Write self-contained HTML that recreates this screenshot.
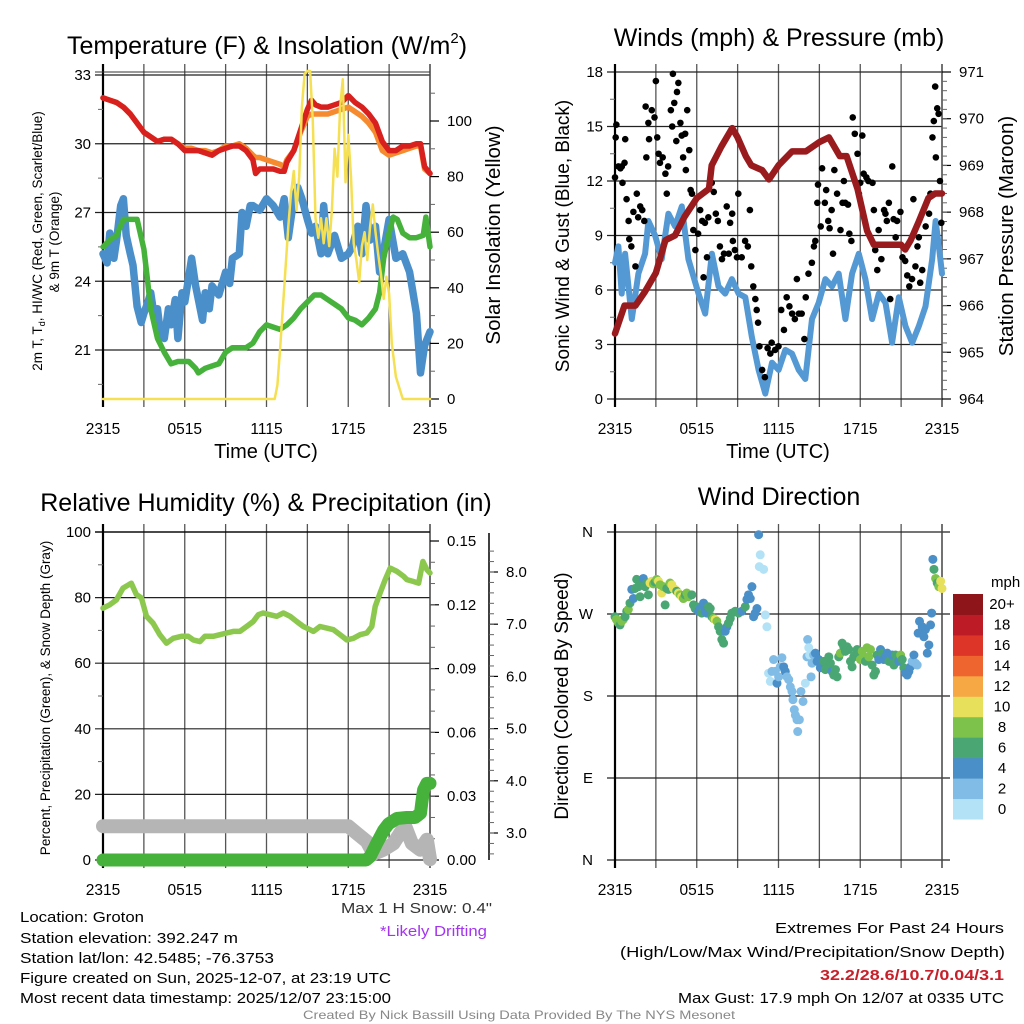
<!DOCTYPE html>
<html><head><meta charset="utf-8">
<style>
html,body{margin:0;padding:0;background:#fff;}
svg{display:block;font-family:"Liberation Sans",sans-serif;}
</style></head>
<body>
<svg id="fig" width="1024" height="1024" viewBox="0 0 1024 1024" xmlns="http://www.w3.org/2000/svg">
<rect width="1024" height="1024" fill="#fff"/>
<g id="p1"></g>
<g id="p2"></g>
<g id="p3"></g>
<g id="p4"></g>

<text x="267" y="54" font-size="25" text-anchor="middle">Temperature (F) &amp; Insolation (W/m<tspan font-size="15" dy="-11">2</tspan><tspan dy="11">)</tspan></text>
<text x="779" y="46" font-size="25" text-anchor="middle">Winds (mph) &amp; Pressure (mb)</text>
<text x="266" y="511" font-size="25" text-anchor="middle">Relative Humidity (%) &amp; Precipitation (in)</text>
<text x="779" y="505" font-size="25" text-anchor="middle">Wind Direction</text>

<text transform="translate(42,241) rotate(-90)" font-size="13.5" text-anchor="middle">2m T, T<tspan font-size="9" dy="3">d</tspan><tspan dy="-3">, HI/WC (Red, Green, Scarlet/Blue)</tspan></text>
<text transform="translate(59,242) rotate(-90)" font-size="13.5" text-anchor="middle">&amp; 9m T (Orange)</text>
<text transform="translate(500,235) rotate(-90)" font-size="20.5" text-anchor="middle">Solar Insolation (Yellow)</text>
<text x="266" y="458" font-size="20" text-anchor="middle">Time (UTC)</text>
<text x="778" y="458" font-size="20" text-anchor="middle">Time (UTC)</text>
<text transform="translate(569,236) rotate(-90)" font-size="19" text-anchor="middle">Sonic Wind &amp; Gust (Blue, Black)</text>
<text transform="translate(1013,236) rotate(-90)" font-size="20.5" text-anchor="middle">Station Pressure (Maroon)</text>
<text transform="translate(50,698) rotate(-90)" font-size="13.5" text-anchor="middle">Percent, Precipitation (Green), &amp; Snow Depth (Gray)</text>
<text transform="translate(568,696) rotate(-90)" font-size="19" text-anchor="middle">Direction (Colored By Speed)</text>

<g font-size="15">
<text x="341" y="913" textLength="151" lengthAdjust="spacingAndGlyphs" fill="#333">Max 1 H Snow: 0.4"</text>
<text x="380" y="936" textLength="107" lengthAdjust="spacingAndGlyphs" fill="#a335f0">*Likely Drifting</text>
<text x="20" y="922" textLength="124" lengthAdjust="spacingAndGlyphs">Location: Groton</text>
<text x="20" y="943" textLength="218" lengthAdjust="spacingAndGlyphs">Station elevation: 392.247 m</text>
<text x="20" y="963" textLength="254" lengthAdjust="spacingAndGlyphs">Station lat/lon: 42.5485; -76.3753</text>
<text x="20" y="983" textLength="371" lengthAdjust="spacingAndGlyphs">Figure created on Sun, 2025-12-07, at 23:19 UTC</text>
<text x="20" y="1003" textLength="371" lengthAdjust="spacingAndGlyphs">Most recent data timestamp: 2025/12/07 23:15:00</text>
<text x="775" y="933" textLength="229" lengthAdjust="spacingAndGlyphs">Extremes For Past 24 Hours</text>
<text x="620" y="957" textLength="385" lengthAdjust="spacingAndGlyphs">(High/Low/Max Wind/Precipitation/Snow Depth)</text>
<text x="820" y="980" textLength="184" lengthAdjust="spacingAndGlyphs" fill="#c8202a" font-weight="bold">32.2/28.6/10.7/0.04/3.1</text>
<text x="678" y="1003" textLength="326" lengthAdjust="spacingAndGlyphs">Max Gust: 17.9 mph On 12/07 at 0335 UTC</text>
<text x="303" y="1019" font-size="12" textLength="432" lengthAdjust="spacingAndGlyphs" fill="#888">Created By Nick Bassill Using Data Provided By The NYS Mesonet</text>
</g>
</svg>
<script>
// ---------- DATA ----------
const xTickLabels = ["2315","0515","1115","1715","2315"];
const tempTicks = [21,24,27,30,33];
const insolTicks = [0,20,40,60,80,100];
const windTicks = [0,3,6,9,12,15,18];
const presTicks = [964,965,966,967,968,969,970,971];
const rhTicks = [0,20,40,60,80,100];
const precipTicks = ["0.00","0.03","0.06","0.09","0.12","0.15"];
const snowTicks = ["3.0","4.0","5.0","6.0","7.0","8.0"];
const dirTickLabels = ["N","E","S","W","N"];
const speedBins = ["0","2","4","6","8","10","12","14","16","18","20+"];

const tempT = [0,0.5,1,1.5,2,2.5,3,3.5,4,4.5,5,5.5,6,6.5,7,7.5,8,8.5,9,9.5,10,10.5,11,11.2,11.5,12,12.5,13,13.3,13.5,14,14.5,15,15.3,15.6,16,16.5,17,17.5,18,18.5,19,19.5,20,20.5,21,21.5,22,22.5,23,23.3,23.6,24];
const tempRed = [32.0,31.9,31.8,31.6,31.3,30.9,30.5,30.3,30.1,30.2,30.2,30.0,29.7,29.7,29.7,29.6,29.5,29.7,29.8,29.9,29.9,29.7,29.3,28.7,28.9,28.9,28.9,28.8,28.8,29.2,29.7,30.6,31.5,31.9,31.7,31.6,31.6,31.7,31.8,32.1,31.8,31.6,31.3,30.9,30.1,29.7,29.7,29.9,29.9,30.0,30.0,29.0,28.7];
const tempOrange = [32.0,31.9,31.8,31.6,31.3,30.9,30.5,30.3,30.1,30.2,30.2,30.0,29.8,29.8,29.7,29.7,29.6,29.7,29.9,29.9,30.0,29.8,29.5,29.4,29.4,29.3,29.2,29.1,29.0,29.3,29.7,30.5,31.2,31.3,31.3,31.3,31.3,31.4,31.5,31.6,31.4,31.2,30.9,30.5,29.7,29.5,29.6,29.7,29.8,29.9,29.9,28.9,28.7];
const dewT = [0,0.5,1,1.5,2,2.5,3,3.2,3.5,4,4.5,5,5.5,6,6.3,6.8,7,7.5,8,8.5,9,9.5,10,10.5,11,11.5,12,12.5,13,13.5,14,14.5,15,15.5,16,16.5,17,17.5,18,18.5,19,19.5,20,20.3,20.6,21,21.3,21.6,22,22.5,23,23.5,23.7,24];
const dewVal = [25.5,25.8,26.0,26.7,26.7,26.7,25.4,24.4,22.8,21.5,20.9,20.4,20.5,20.5,20.5,20.2,20.0,20.2,20.3,20.4,20.9,21.1,21.1,21.1,21.3,21.8,22.1,22.0,21.9,22.1,22.4,22.8,23.1,23.4,23.4,23.2,23.0,22.8,22.4,22.3,22.1,22.4,22.8,23.5,25.0,26.1,26.8,26.7,26.1,25.9,25.9,26.0,26.8,25.5];
const wcT = [0,0.3,0.5,0.8,1,1.3,1.5,1.7,2,2.2,2.5,2.8,3,3.3,3.5,3.8,4,4.2,4.5,4.8,5,5.3,5.5,5.8,6,6.3,6.5,6.8,7,7.3,7.5,7.8,8,8.5,9,9.3,9.5,10,10.2,10.5,10.8,11,11.5,12,12.5,13,13.3,13.6,14,14.3,14.6,15,15.3,15.6,16,16.2,16.5,17,17.5,18,18.3,18.7,19,19.3,19.6,20,20.3,20.5,21,21.5,22,22.5,23,23.3,23.6,24];
const wcVal = [25.2,24.8,26.1,25.0,25.8,27.3,27.6,26.0,25.2,24.7,22.9,22.2,22.6,23.1,23.5,22.3,22.8,21.8,21.5,22.8,22.1,23.2,21.5,23.5,23.1,24.2,25.0,23.8,23.2,22.3,23.5,22.8,23.8,23.4,24.4,23.9,25.0,25.2,27.0,26.4,27.3,27.3,27.1,27.6,27.3,26.8,27.6,25.9,27.6,28.1,27.6,26.7,26.1,26.4,25.2,27.3,25.2,26.0,25.0,25.2,25.5,26.4,25.2,27.3,25.8,26.4,24.4,25.0,26.7,25.0,25.2,24.4,22.6,20.0,21.2,21.8];
const solT = [0,12.6,12.8,13,13.3,13.6,13.8,14,14.2,14.4,14.6,14.8,15,15.2,15.4,15.6,15.8,16,16.2,16.4,16.6,16.8,17,17.2,17.4,17.6,17.8,18,18.2,18.4,18.6,18.8,19,19.2,19.4,19.6,19.8,20,20.2,20.4,20.6,20.8,21,21.2,21.5,22,24];
const solVal = [0,0,5,18,40,62,74,82,68,80,105,117,118,118,100,65,58,65,56,65,55,68,90,80,105,115,78,95,80,56,50,42,55,60,50,62,70,60,52,45,36,44,38,20,8,0,0];

const presT = [0,0.7,1.5,2.2,3,3.7,4.4,5.1,6,6.9,7.1,7.8,8.6,9,9.6,10,10.8,11.3,12,13,14,15,15.7,16.5,17,17.8,18.5,19,20,21,21.3,21.7,22.3,23,23.5,24];
const presVal = [965.4,966.0,966.0,966.3,966.7,967.4,967.5,967.9,968.3,968.5,969.0,969.4,969.8,969.6,969.2,969.0,968.9,968.7,969.0,969.3,969.3,969.5,969.6,969.2,969.2,968.5,967.6,967.3,967.3,967.3,967.2,967.4,967.8,968.3,968.4,968.4];
const sonicT = [0,0.25,0.49,0.74,1.23,1.72,2.21,2.45,2.94,3.43,3.92,4.41,4.9,5.39,6.13,6.62,7.11,7.6,8.09,8.58,9.07,9.56,10.05,10.54,11.03,11.52,12.01,12.5,12.99,13.48,13.97,14.46,14.95,15.44,15.93,16.42,16.91,17.4,17.89,18.38,18.87,19.36,19.85,20.34,20.83,21.32,21.81,22.3,22.79,23.28,23.53,23.77,24];
const sonicVal = [7.5,8.4,5.8,8.0,4.4,6.9,8.0,9.8,9.0,7.7,10.2,9.5,10.6,7.7,5.8,4.7,8.0,6.2,5.8,6.6,5.8,5.6,3.4,1.6,0.3,2.0,1.6,2.7,2.5,1.6,1.1,4.4,5.3,6.6,6.2,6.9,4.4,6.9,8.0,6.6,4.4,5.8,5.3,3.1,5.6,4.0,3.1,4.0,5.1,7.7,9.8,8.4,6.9];
const gustT = [0,0.05,0.1,0.25,0.4,0.5,0.55,0.7,0.75,0.85,1,1.05,1.2,1.35,1.5,1.6,1.7,1.85,2.0,2.15,2.25,2.3,2.45,2.5,2.7,2.9,3.0,3.1,3.2,3.3,3.5,3.7,3.8,3.9,4.1,4.2,4.25,4.35,4.5,4.55,4.65,4.8,4.9,5.0,5.15,5.2,5.3,5.45,5.55,5.65,5.75,5.9,6.1,6.25,6.4,6.5,6.6,6.75,6.85,7.1,7.25,7.4,7.55,7.7,7.85,8.0,8.2,8.35,8.45,8.6,8.65,8.8,8.95,9.05,9.3,9.55,9.75,9.9,10.0,10.15,10.3,10.4,10.5,10.6,10.8,11.0,11.2,11.4,11.5,11.75,12.0,12.2,12.4,12.6,12.8,13.0,13.2,13.35,13.5,13.7,13.9,14.0,14.2,14.45,14.6,14.7,14.85,14.9,15.1,15.2,15.4,15.5,15.65,15.75,15.9,16.0,16.1,16.3,16.55,16.7,16.8,16.9,17.1,17.2,17.35,17.45,17.6,17.8,17.9,18.0,18.15,18.25,18.45,18.6,18.9,19.0,19.1,19.25,19.35,19.55,19.75,19.85,19.95,20.1,20.2,20.35,20.45,20.6,20.7,20.95,21.1,21.3,21.45,21.6,21.8,21.9,22.05,22.2,22.3,22.4,22.55,22.8,23.05,23.15,23.3,23.4,23.5,23.55,23.65,23.75,23.85,23.95];
const gustVal = [12.2,14.4,15.1,12.8,12.7,12.8,11.9,13.0,14.3,11.0,9.8,8.8,8.4,10.3,7.3,11.3,10.0,10.6,10.4,9.8,16.1,13.3,15.2,14.3,15.9,15.5,17.5,14.4,13.5,13.0,13.3,12.4,11.3,12.8,15.9,15.0,17.9,16.3,14.2,16.9,17.4,15.2,14.5,13.3,14.6,12.6,15.9,13.7,11.5,11.3,9.3,8.2,9.1,10.4,9.8,6.7,9.7,7.8,10.0,11.9,11.4,10.2,9.8,8.4,7.7,8.0,10.6,8.0,9.7,10.2,8.7,8.2,7.8,11.3,7.8,8.7,8.4,10.4,7.3,6.2,5.5,4.9,4.2,2.9,1.6,1.2,2.8,2.5,3.1,2.7,2.9,4.9,3.8,5.6,5.1,4.7,4.4,6.6,4.7,4.7,3.3,5.6,6.9,7.5,8.4,8.7,10.8,11.8,9.5,12.7,10.8,11.5,9.8,9.4,10.4,8.0,12.6,11.3,9.3,10.8,12.0,10.8,10.7,9.1,8.7,15.5,14.6,13.5,11.3,11.9,14.5,12.4,12.2,12.0,11.9,10.4,8.2,7.1,9.3,7.7,10.4,10.2,9.8,10.8,5.5,12.8,9.9,8.9,9.8,10.3,7.8,7.6,6.8,6.2,6.6,11.0,7.3,8.4,8.9,6.4,7.1,9.5,10.2,11.3,14.4,15.3,17.2,13.3,16.0,15.7,12.0,9.7];

const rhT = [0,0.49,0.98,1.47,2.08,2.45,2.82,3.19,3.68,4.17,4.66,5.15,5.76,6.25,6.62,7.11,7.48,8.09,8.58,9.07,9.56,10.05,10.54,11.03,11.4,11.76,12.25,12.75,13.24,13.73,14.22,14.71,15.2,15.44,15.93,16.42,16.91,17.4,17.89,18.38,18.87,19.36,19.73,19.98,20.34,20.71,21.08,21.57,22.06,22.3,22.79,23.16,23.48,23.77,24];
const rhVal = [76.8,77.8,79.3,82.9,84.4,80.9,79.9,74.3,72.2,68.7,66.1,67.6,68.2,68.2,67.1,66.6,68.2,68.2,68.7,69.2,69.7,69.7,71.2,72.7,74.8,75.3,74.8,74.3,75.3,74.3,72.7,71.2,70.2,69.7,71.2,70.7,70.2,68.7,67.1,67.6,68.7,69.2,71.2,77.3,81.4,85.5,89.0,88.0,86.5,85.5,84.9,84.4,91.0,88.5,87.5];
const precipT = [0,19.3,19.6,20.1,20.6,20.96,21.57,22.3,22.9,23.3,23.4,23.53,23.77,24];
const precipVal = [0,0,0.0016,0.008,0.014,0.017,0.0195,0.020,0.020,0.022,0.027,0.033,0.036,0.036];
const snowT = [0,18.0,18.6,19.36,19.85,20.59,21.32,21.81,22.18,22.67,23.28,23.77,24];
const snowVal = [3.13,3.13,3.0,2.84,2.6,2.68,2.8,3.0,3.13,2.8,2.68,2.87,2.5];

const dirTime = [0,0.1,0.25,0.37,0.49,0.61,0.74,0.86,0.98,1.1,1.23,1.35,1.47,1.59,1.72,1.84,1.96,2.08,2.21,2.33,2.45,2.57,2.7,2.82,2.94,3.06,3.19,3.31,3.43,3.55,3.68,3.8,3.92,4.04,4.17,4.29,4.41,4.53,4.66,4.78,4.9,5.02,5.15,5.27,5.39,5.51,5.64,5.76,5.88,6.0,6.13,6.25,6.37,6.5,6.62,6.74,6.86,6.99,7.11,7.23,7.35,7.48,7.6,7.72,7.84,7.97,8.09,8.21,8.33,8.46,8.58,8.82,9.07,9.31,9.56,9.68,9.8,9.93,10.05,10.17,10.29,10.42,10.54,10.66,10.59,10.91,11.03,11.15,11.27,11.4,11.52,11.64,11.76,11.89,12.01,12.13,12.25,12.38,12.5,12.62,12.75,12.87,12.99,13.06,13.16,13.24,13.36,13.41,13.53,13.65,13.8,13.97,14.09,14.14,14.22,14.29,14.39,14.46,14.58,14.71,14.83,14.95,15.07,15.2,15.32,15.44,15.56,15.69,15.81,15.93,16.05,16.18,16.3,16.42,16.54,16.67,16.79,16.91,17.03,17.16,17.28,17.4,17.52,17.65,17.77,17.89,18.01,18.14,18.26,18.38,18.5,18.63,18.75,18.87,19.0,19.12,19.24,19.36,19.49,19.61,19.73,19.85,19.98,20.1,20.22,20.34,20.47,20.59,20.71,20.83,20.96,21.08,21.2,21.32,21.45,21.57,21.69,21.81,21.94,22.06,22.18,22.25,22.35,22.55,22.67,22.79,22.92,23.04,23.16,23.24,23.33,23.41,23.53,23.65,23.77,23.9,24];
const dirDeg = [267,264,260,258,262,264,267,273,275,282,297,287,298,308,300,289,306,309,300,304,291,304,306,303,305,308,306,302,293,300,280,298,297,304,302,298,297,295,293,291,289,287,291,293,289,291,291,280,276,278,273,276,271,282,273,271,278,276,267,265,264,262,256,251,242,238,251,256,260,265,271,273,271,273,278,286,291,287,300,267,271,276,357,335,322,319,269,256,205,196,207,220,207,194,201,212,222,212,207,201,198,190,185,176,165,159,154,141,154,185,174,194,223,242,233,225,201,216,225,227,218,220,211,214,218,209,211,223,216,207,203,209,201,223,227,238,234,229,234,231,218,212,223,225,231,227,220,229,223,218,233,223,231,214,203,207,225,220,231,227,220,223,227,218,220,225,214,225,223,218,225,220,211,205,203,207,212,218,225,216,214,249,262,256,245,253,227,236,258,271,330,319,309,304,300,306,298];
const dirSpeed = [6,8,8,6,8,8,6,6,8,6,4,4,6,6,6,6,6,4,6,6,6,10,10,8,6,8,10,8,10,8,6,6,6,8,10,10,10,6,10,8,10,8,6,8,8,8,6,6,6,6,4,4,6,4,4,4,6,6,6,8,10,8,6,6,6,6,4,4,6,6,6,6,6,4,6,4,4,4,4,4,4,4,4,0,0,0,0,0,0,0,2,2,2,4,2,2,2,4,4,2,2,2,2,2,2,2,2,2,2,2,2,0,2,2,0,0,2,2,2,4,4,4,4,4,6,6,6,6,6,4,6,6,6,6,8,6,6,6,6,6,6,6,6,6,6,6,8,8,8,6,8,8,8,6,6,6,6,4,4,6,4,4,4,6,6,4,6,6,6,4,8,6,6,4,4,4,4,2,4,2,2,4,4,4,4,4,4,4,4,4,4,6,8,6,8,10,10,8,6,6,6];

// ---------- RENDER ----------
const NS = "http://www.w3.org/2000/svg";
function mk(parent, tag, attrs) {
  const e = document.createElementNS(NS, tag);
  for (const k in attrs) e.setAttribute(k, attrs[k]);
  parent.appendChild(e);
  return e;
}
function linScale(d0, d1, r0, r1) { return v => r0 + (v - d0) * (r1 - r0) / (d1 - d0); }
const speedColors = ["#b3e2f7","#80bce6","#4a8fc7","#4aa673","#7dc24b","#e6e05a","#f6a845","#ef6530","#de3529","#bd1c26","#8e151a"];

function frame(g, X0, X1, Y0, Y1, hTicks, hScale, grid) {
  const xs = linScale(0, 24, X0, X1);
  for (let h = 3; h < 24; h += 3) {
    const l = mk(g, "line", {x1: xs(h), x2: xs(h), y1: Y0 - 8, y2: Y1 + 8, stroke: "#555", "stroke-width": 1.3});
    
    
  }
  hTicks.forEach(v => {
    const y = hScale(v);
    const l = mk(g, "line", {x1: X0 - 8, x2: grid, y1: y, y2: y, stroke: "#222", "stroke-width": 1.2});
    
    
  });
  const ax = mk(g, "line", {x1: X0, x2: X0, y1: Y0 - 8, y2: Y1 + 8, stroke: "#000", "stroke-width": 2.2});
  
  
  const ax2 = mk(g, "line", {x1: X1, x2: X1, y1: Y0 - 8, y2: Y1 + 8, stroke: "#444", "stroke-width": 1.5});
  
  
  xTickLabels.forEach((s, i) => {
    const t = mk(g, "text", {x: xs(i * 6), y: Y1 + 35, "font-size": 15.5, "text-anchor": "middle"});
    t.textContent = s;
    
    
  });
  return xs;
}
function leftLabels(g, X0, ticks, ys, fmt) {
  ticks.forEach(v => {
    const t = mk(g, "text", {x: X0 - 12, y: ys(v) + 5, "font-size": 15, "text-anchor": "end"});
    t.textContent = fmt ? fmt(v) : v;
    
    
  });
}
function rightAxis(g, X, ticks, ys, labels, minor) {
  ticks.forEach((v, i) => {
    const y = ys(v);
    mk(g, "line", {x1: X, x2: X + 9, y1: y, y2: y, stroke: "#000", "stroke-width": 1.2});
    const t = mk(g, "text", {x: X + 17, y: y + 5, "font-size": 15});
    t.textContent = labels[i];
    
    
  });
  minor.forEach(v => mk(g, "line", {x1: X, x2: X + 5, y1: ys(v), y2: ys(v), stroke: "#666", "stroke-width": 1}));
}
function path(g, T, V, xs, ys, color, w, name) {
  const d = T.map((t, i) => (i ? "L" : "M") + xs(t).toFixed(1) + "," + ys(V[i]).toFixed(1)).join("");
  const p = mk(g, "path", {d: d, fill: "none", stroke: color, "stroke-width": w, "stroke-linejoin": "round", "stroke-linecap": "round"});
  
  
  return p;
}

// Panel 1
(function () {
  const g = document.getElementById("p1");
  const X0 = 103, X1 = 430, Y0 = 72, Y1 = 399;
  const ys = linScale(33, 21, 75, 350);
  const ysol = linScale(0, 100, 399, 121);
  const xs = frame(g, X0, X1, Y0, Y1, tempTicks, ys, X1);
  mk(g, "line", {x1: X0 - 8, x2: X1, y1: 72, y2: 72, stroke: "#333", "stroke-width": 1});
  leftLabels(g, X0, tempTicks, ys);
  const minorS = []; for (let v = 10; v <= 110; v += 20) minorS.push(v);
  rightAxis(g, X1, insolTicks, ysol, insolTicks.map(String), minorS);
  [22.5, 25.5, 28.5, 31.5, 19.5].forEach(v => mk(g, "line", {x1: X0 - 5, x2: X0, y1: ys(v), y2: ys(v), stroke: "#666"}));
  path(g, wcT, wcVal, xs, ys, "#4a8fca", 7.5, "wind-chill-line");
  path(g, dewT, dewVal, xs, ys, "#46b23c", 5.5, "dewpoint-line");
  path(g, tempT, tempOrange, xs, ys, "#f58a2e", 5.5, "temp-9m-line");
  path(g, tempT, tempRed, xs, ys, "#d8201e", 5.5, "temp-2m-line");
  path(g, solT, solVal, xs, ysol, "#f5e053", 2.5, "insolation-line");
})();

// Panel 2
(function () {
  const g = document.getElementById("p2");
  const X0 = 615, X1 = 942, Y0 = 72, Y1 = 399;
  const ys = linScale(0, 18, 399, 72);
  const yp = linScale(964, 971, 399, 72);
  const xs = frame(g, X0, X1, Y0, Y1, windTicks, ys, X1);
  leftLabels(g, X0, windTicks, ys);
  const minorP = []; for (let v = 964.2; v < 971; v += 0.2) minorP.push(v);
  rightAxis(g, X1, presTicks, yp, presTicks.map(String), minorP);
  [1.5, 4.5, 7.5, 10.5, 13.5, 16.5].forEach(v => mk(g, "line", {x1: X0 - 5, x2: X0, y1: ys(v), y2: ys(v), stroke: "#666"}));
  path(g, sonicT, sonicVal, xs, ys, "#5499d3", 6, "sonic-wind-line");
  gustT.forEach((t, i) => {
    const c = mk(g, "circle", {cx: xs(t), cy: ys(gustVal[i]), r: 3.3, fill: "#000"});
    
    
  });
  path(g, presT, presVal, xs, yp, "#9a1b1e", 6.5, "pressure-line");
})();

// Panel 3
(function () {
  const g = document.getElementById("p3");
  const X0 = 103, X1 = 430, Y0 = 532, Y1 = 860;
  const ys = linScale(0, 100, 860, 532);
  const yp = linScale(0, 0.15, 860, 541);
  const ysn = linScale(3, 8, 833, 572);
  const xs = frame(g, X0, X1, Y0, Y1, rhTicks, ys, X1);
  mk(g, "line", {x1: X0 - 8, x2: X1, y1: 532, y2: 532, stroke: "#000", "stroke-width": 1.2});
  leftLabels(g, X0, rhTicks, ys);
  [10, 30, 50, 70, 90].forEach(v => mk(g, "line", {x1: X0 - 5, x2: X0, y1: ys(v), y2: ys(v), stroke: "#666"}));
  const minorP = []; for (let v = 0.01; v < 0.15; v += 0.01) minorP.push(v);
  rightAxis(g, X1, [0, 0.03, 0.06, 0.09, 0.12, 0.15], yp, precipTicks, minorP);
  const sx = 489;
  mk(g, "line", {x1: sx, x2: sx, y1: 533, y2: 860, stroke: "#000", "stroke-width": 1.5});
  const minorSn = []; for (let v = 2.6; v < 8.6; v += 0.2) minorSn.push(v);
  rightAxis(g, sx, [3, 4, 5, 6, 7, 8], ysn, snowTicks, minorSn.filter(v => ysn(v) > 533));
  path(g, snowT, snowVal, xs, ysn, "#b5b5b5", 14, "snow-depth-line");
  path(g, precipT, precipVal, xs, yp, "#46b23c", 13, "precipitation-line");
  path(g, rhT, rhVal, xs, ys, "#8dc84e", 5.5, "humidity-line");
})();

// Panel 4
(function () {
  const g = document.getElementById("p4");
  const X0 = 615, X1 = 942, Y0 = 532, Y1 = 860;
  const yd = linScale(0, 360, 860, 532);
  const dirVals = [0, 90, 180, 270, 360];
  const xs = frame(g, X0, X1, Y0, Y1, dirVals, yd, 950);
  dirVals.forEach((v, i) => {
    const t = mk(g, "text", {x: X0 - 22, y: yd(v) + 5, "font-size": 15, "text-anchor": "end"});
    t.textContent = dirTickLabels[i];
    
    
  });
  dirTime.forEach((t, i) => {
    const bin = Math.min(10, Math.max(0, Math.round(dirSpeed[i] / 2)));
    const c = mk(g, "circle", {cx: xs(t), cy: yd(dirDeg[i]), r: 4.5, fill: speedColors[bin]});
    
    
  });
  const cb = mk(g, "g", {});
  
  
  const top = 594, bot = 819, h = (bot - top) / speedBins.length;
  speedBins.forEach((s, i) => {
    const y = bot - (i + 1) * h;
    const r = mk(cb, "rect", {x: 953, y: y, width: 30, height: h + 0.5, fill: speedColors[i]});
    
    
    const t = mk(cb, "text", {x: 1002, y: y + h / 2 + 5, "font-size": 15, "text-anchor": "middle"});
    t.textContent = s;
    
    
  });
  const m = mk(cb, "text", {x: 991, y: 587, "font-size": 15});
  m.textContent = "mph";
  
  
})();
</script>
</body></html>
